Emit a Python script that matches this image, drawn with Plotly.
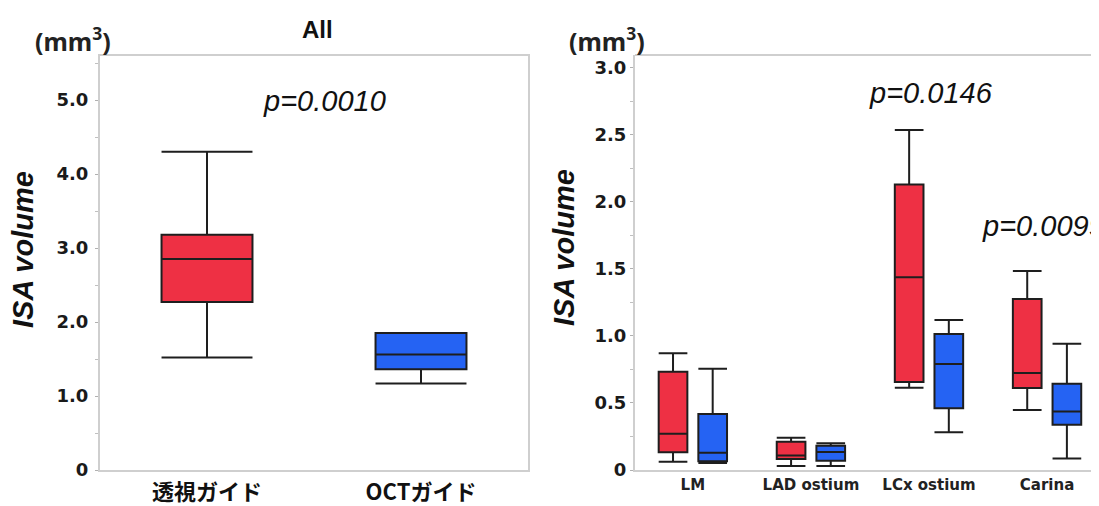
import plotly.graph_objects as go

# ---------------- data ----------------
left_categories = ["透視ガイド", "OCTガイド"]
left_q1 = [2.27, 1.36]
left_median = [2.85, 1.56]
left_q3 = [3.18, 1.85]
left_lower = [1.52, 1.17]
left_upper = [4.30, 1.85]

right_categories = ["LM", "LAD ostium", "LCx ostium", "Carina"]
fluoro_q1 = [0.132, 0.082, 0.656, 0.611]
fluoro_median = [0.271, 0.109, 1.437, 0.723]
fluoro_q3 = [0.733, 0.211, 2.130, 1.275]
fluoro_lower = [0.062, 0.030, 0.614, 0.447]
fluoro_upper = [0.870, 0.241, 2.535, 1.484]

oct_q1 = [0.066, 0.069, 0.460, 0.338]
oct_median = [0.129, 0.134, 0.790, 0.437]
oct_q3 = [0.418, 0.181, 1.014, 0.644]
oct_lower = [0.052, 0.030, 0.281, 0.085]
oct_upper = [0.756, 0.199, 1.118, 0.942]

left_yticks = [0, 1, 2, 3, 4, 5]
left_yticktext = ["0", "1.0", "2.0", "3.0", "4.0", "5.0"]
right_yticks = [0, 0.5, 1.0, 1.5, 2.0, 2.5, 3.0]
right_yticktext = ["0", "0.5", "1.0", "1.5", "2.0", "2.5", "3.0"]

p_left = "p=0.0010"
p_lcx = "p=0.0146"
p_carina = "p=0.0099"

RED = "#EE3044"
BLUE = "#2563F3"
EDGE = "#1e1e1e"
AXIS = "#cfcfcf"

# page body has an 8px margin: figure placed at (8, 8)
OFF = 8
W, H = 1099 - OFF, 506 - OFF


def px(x):
    return (x - OFF) / W


def py(y):
    return 1 - (y - OFF) / H


fig = go.Figure()

# left panel: one box per category, colored separately
for i, (cat, col) in enumerate(zip(left_categories, [RED, BLUE])):
    fig.add_trace(go.Box(
        x=[cat], q1=[left_q1[i]], median=[left_median[i]], q3=[left_q3[i]],
        lowerfence=[left_lower[i]], upperfence=[left_upper[i]],
        fillcolor=col, line=dict(color=EDGE, width=2), whiskerwidth=1,
        width=0.425, boxpoints=False, showlegend=False,
        xaxis="x", yaxis="y"))

# right panel: grouped boxes
fig.add_trace(go.Box(
    x=right_categories, q1=fluoro_q1, median=fluoro_median, q3=fluoro_q3,
    lowerfence=fluoro_lower, upperfence=fluoro_upper,
    fillcolor=RED, line=dict(color=EDGE, width=2), whiskerwidth=1,
    boxpoints=False, showlegend=False, offsetgroup="f", alignmentgroup="R",
    xaxis="x2", yaxis="y2"))
fig.add_trace(go.Box(
    x=right_categories, q1=oct_q1, median=oct_median, q3=oct_q3,
    lowerfence=oct_lower, upperfence=oct_upper,
    fillcolor=BLUE, line=dict(color=EDGE, width=2), whiskerwidth=1,
    boxpoints=False, showlegend=False, offsetgroup="o", alignmentgroup="R",
    xaxis="x2", yaxis="y2"))

tickfont_y = dict(family="DejaVu Sans", size=18, color="#1a1a1a")

fig.update_layout(
    width=W, height=H,
    margin=dict(l=0, r=0, t=0, b=0),
    paper_bgcolor="white", plot_bgcolor="white",
    boxmode="group", boxgap=0.328, boxgroupgap=0.277,
    xaxis=dict(domain=[px(100), px(528)], anchor="y", type="category",
               range=[-0.5, 1.5], showline=True, linecolor=AXIS, linewidth=2,
               mirror=True, ticks="", showgrid=False, zeroline=False,
               tickvals=left_categories,
               ticktext=["<b>%s</b>" % c for c in left_categories],
               tickfont=dict(family="Noto Sans CJK JP", size=22, color="#111"),
               ticklabelstandoff=2, automargin=False),
    yaxis=dict(domain=[py(470), py(56)], anchor="x", range=[0, 5.595],
               showline=True, linecolor=AXIS, linewidth=2, mirror=True,
               tickvals=left_yticks,
               ticktext=["<b>%s</b>" % t for t in left_yticktext],
               ticks="outside", ticklen=3, tickcolor="#b0b0b0", tickwidth=1,
               minor=dict(dtick=0.5, ticks="outside", ticklen=3, tickcolor="#c0c0c0"),
               showgrid=False, zeroline=False, ticklabelstandoff=3,
               tickfont=tickfont_y, automargin=False),
    xaxis2=dict(domain=[px(635), 1.0], anchor="y2", type="category",
                range=[-0.49, 3.44], showline=True, linecolor=AXIS, linewidth=2,
                ticks="", showgrid=False, zeroline=False,
                tickvals=right_categories,
                ticktext=["<b>%s</b>" % c for c in right_categories],
                tickfont=dict(family="DejaVu Sans", size=15, color="#222"),
                automargin=False),
    yaxis2=dict(domain=[py(470), py(55)], anchor="x2", range=[0, 3.095],
                showline=True, linecolor=AXIS, linewidth=2,
                tickvals=right_yticks,
                ticktext=["<b>%s</b>" % t for t in right_yticktext],
                ticks="outside", ticklen=3, tickcolor="#b0b0b0", tickwidth=1,
                minor=dict(dtick=0.25, ticks="outside", ticklen=3, tickcolor="#c0c0c0"),
                showgrid=False, zeroline=False,
                tickfont=tickfont_y, automargin=False),
    shapes=[dict(type="line", xref="x2 domain", yref="y2 domain",
                 x0=0, x1=1.01, y0=1, y1=1, line=dict(color=AXIS, width=2))],
)

ann = []


def add_text(text, x, y, font, xanchor="center", angle=0):
    ann.append(dict(text=text, x=px(x), y=py(y), xref="paper", yref="paper",
                    xanchor=xanchor, yanchor="middle", textangle=angle,
                    showarrow=False, font=font))


add_text("<b>All</b>", 317, 30, dict(family="Liberation Sans", size=24, color="#111"))
for x0 in (73, 607):
    add_text("<b>(mm<sup>3</sup>)</b>", x0, 39,
             dict(family="Noto Sans", size=25, color="#222"))
title_font = dict(family="Liberation Sans", size=29, color="#111")
for x0, y0 in ((23, 250), (564, 248)):
    add_text("<b><i>ISA volume</i></b>", x0, y0, title_font, angle=-90)
pfont = dict(family="Liberation Sans", size=29, color="#111")
add_text("<i>%s</i>" % p_left, 324, 101, pfont)
add_text("<i>%s</i>" % p_lcx, 931, 93, pfont)
add_text("<i>%s</i>" % p_carina, 980, 226, pfont, xanchor="left")
fig.update_layout(annotations=ann)

fig.write_html("out.html")
